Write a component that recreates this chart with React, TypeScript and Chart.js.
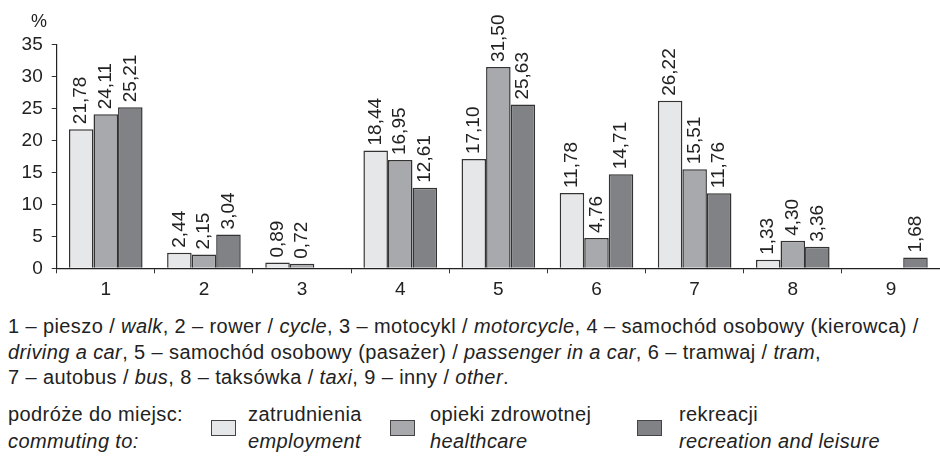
import React, { useEffect, useRef } from "react";
import { Chart, registerables } from "chart.js";

Chart.register(...registerables);

const categories = ["1", "2", "3", "4", "5", "6", "7", "8", "9"];
const yTicks = [0, 5, 10, 15, 20, 25, 30, 35];

// bar heights as drawn
const employment = [21.78, 2.44, 0.89, 18.44, 17.1, 11.78, 26.22, 1.33, null];
const healthcare = [24.11, 2.15, 0.72, 16.95, 31.5, 4.76, 15.51, 4.3, null];
const recreation = [25.21, 5.3, null, 12.61, 25.63, 14.71, 11.76, 3.36, 1.68];

// printed value labels
const employmentLabels = ["21,78", "2,44", "0,89", "18,44", "17,10", "11,78", "26,22", "1,33", ""];
const healthcareLabels = ["24,11", "2,15", "0,72", "16,95", "31,50", "4,76", "15,51", "4,30", ""];
const recreationLabels = ["25,21", "3,04", "", "12,61", "25,63", "14,71", "11,76", "3,36", "1,68"];

const seriesNames = ["zatrudnienia", "opieki zdrowotnej", "rekreacji"];
const seriesNamesEn = ["employment", "healthcare", "recreation and leisure"];
const colors = ["#e6e7e8", "#a7a9ac", "#808285"];

const FONT = "'Liberation Sans', Arial, sans-serif";

const labelPlugin = {
  id: "valueLabels",
  afterDatasetsDraw(chart: any) {
    const ctx = chart.ctx;
    const labelSets = [employmentLabels, healthcareLabels, recreationLabels];
    ctx.save();
    ctx.font = `19px ${FONT}`;
    ctx.fillStyle = "#222";
    ctx.textAlign = "left";
    ctx.textBaseline = "middle";
    chart.data.datasets.forEach((ds: any, di: number) => {
      const meta = chart.getDatasetMeta(di);
      meta.data.forEach((bar: any, i: number) => {
        const txt = labelSets[di][i];
        if (!txt || ds.data[i] == null) return;
        ctx.save();
        ctx.translate(bar.x, bar.y - 5);
        ctx.rotate(-Math.PI / 2);
        ctx.fillText(txt, 0, 0);
        ctx.restore();
      });
    });
    ctx.textBaseline = "alphabetic";
    ctx.font = `18px ${FONT}`;
    ctx.fillText("%", 31, 27);
    ctx.restore();
  },
};

function ChartCanvas() {
  const ref = useRef<HTMLCanvasElement | null>(null);
  useEffect(() => {
    if (!ref.current) return;
    const datasets = [employment, healthcare, recreation].map((d, i) => ({
      label: seriesNames[i],
      data: d,
      backgroundColor: colors[i],
      borderColor: "#333333",
      borderWidth: 1.5,
      categoryPercentage: 0.75,
      barPercentage: 1,
    }));
    const chart = new Chart(ref.current, {
      type: "bar",
      data: { labels: categories, datasets },
      options: {
        animation: false,
        responsive: false,
        maintainAspectRatio: false,
        layout: { padding: { top: 44.7, left: 0, right: 0, bottom: 0 } },
        plugins: { legend: { display: false }, tooltip: { enabled: false } },
        scales: {
          x: {
            grid: {
              offset: true,
              drawOnChartArea: false,
              drawTicks: true,
              tickLength: 5,
              color: "#333",
            },
            border: { display: true, color: "#222", width: 1.2 },
            ticks: { color: "#222", font: { family: FONT, size: 19 }, padding: 5 },
            afterFit: (s: any) => {
              s.height = 31.7;
            },
          },
          y: {
            min: 0,
            max: 35,
            afterBuildTicks: (s: any) => {
              s.ticks = yTicks.map((v) => ({ value: v }));
            },
            grid: {
              drawOnChartArea: false,
              drawTicks: true,
              tickLength: 5,
              color: "#333",
            },
            border: { display: true, color: "#222", width: 1.2 },
            ticks: { color: "#222", font: { family: FONT, size: 19 }, padding: 9 },
            afterFit: (s: any) => {
              s.width = 56.7;
            },
          },
        },
      },
      plugins: [labelPlugin],
    });
    return () => chart.destroy();
  }, []);
  return <canvas ref={ref} width={940} height={300} style={{ position: "absolute", left: 0, top: 0 }} />;
}

const textColor = "#222";

export default function App() {
  const base: React.CSSProperties = {
    position: "absolute",
    fontFamily: FONT,
    fontSize: 20,
    letterSpacing: "0.4px",
    color: textColor,
    whiteSpace: "nowrap",
    lineHeight: "25.5px",
  };
  const box = (left: number, color: string): React.CSSProperties => ({
    position: "absolute",
    left,
    top: 420,
    width: 25,
    height: 16,
    background: color,
    border: "1px solid #444",
    boxSizing: "border-box",
  });
  const legendTop = 400.5;
  return (
    <div style={{ position: "absolute", left: 0, top: 0, width: 940, height: 469, background: "#fff", overflow: "hidden" }}>
      <ChartCanvas />
      <div style={{ ...base, left: 8, top: 314 }}>
        <div>
          1 – pieszo / <i>walk</i>, 2 – rower / <i>cycle</i>, 3 – motocykl / <i>motorcycle</i>, 4 – samochód osobowy (kierowca) /
        </div>
        <div>
          <i>driving a car</i>, 5 – samochód osobowy (pasażer) / <i>passenger in a car</i>, 6 – tramwaj / <i>tram</i>,
        </div>
        <div>
          7 – autobus / <i>bus</i>, 8 – taksówka / <i>taxi</i>, 9 – inny / <i>other</i>.
        </div>
      </div>
      <div style={{ ...base, left: 8, top: legendTop, lineHeight: "27px" }}>
        <div>podróże do miejsc:</div>
        <div><i>commuting to:</i></div>
      </div>
      <div style={box(210.7, colors[0])} />
      <div style={{ ...base, left: 248, top: legendTop, lineHeight: "27px" }}>
        <div>{seriesNames[0]}</div>
        <div><i>{seriesNamesEn[0]}</i></div>
      </div>
      <div style={box(390, colors[1])} />
      <div style={{ ...base, left: 430, top: legendTop, lineHeight: "27px" }}>
        <div>{seriesNames[1]}</div>
        <div><i>{seriesNamesEn[1]}</i></div>
      </div>
      <div style={box(636.7, colors[2])} />
      <div style={{ ...base, left: 679, top: legendTop, lineHeight: "27px" }}>
        <div>{seriesNames[2]}</div>
        <div><i>{seriesNamesEn[2]}</i></div>
      </div>
    </div>
  );
}
